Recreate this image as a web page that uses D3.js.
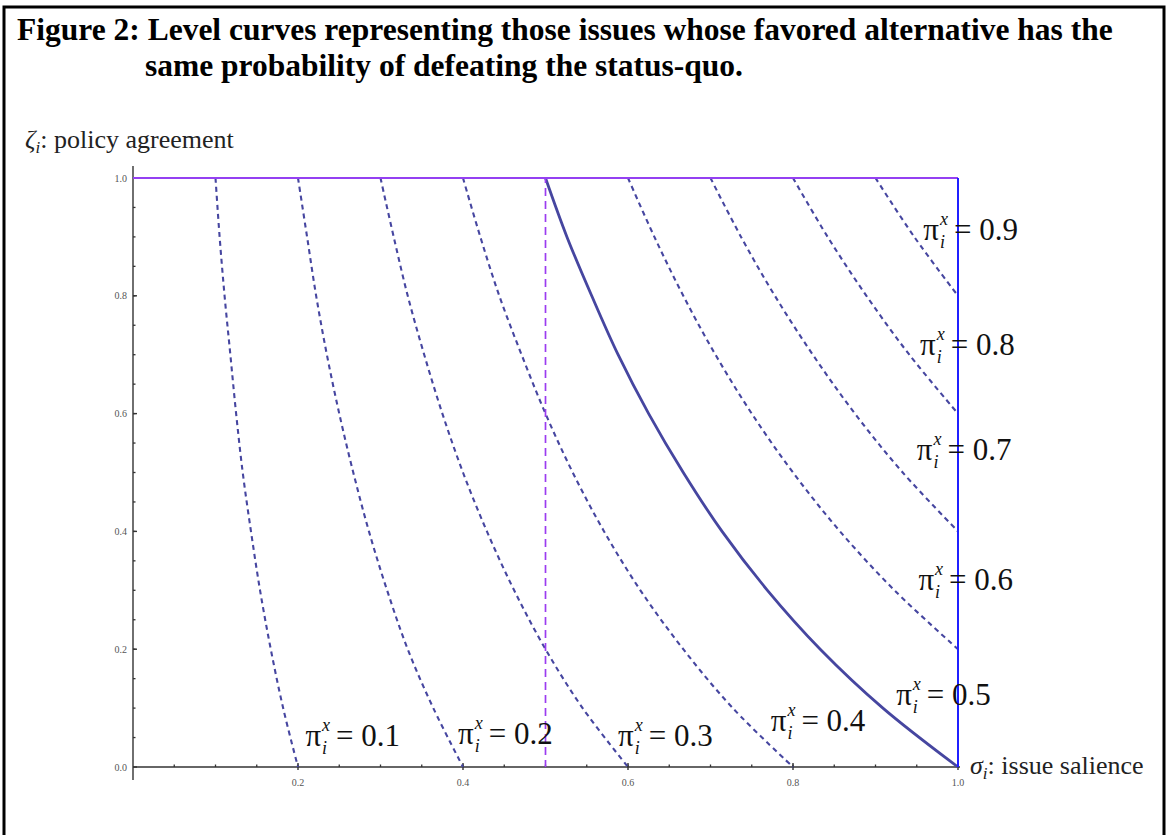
<!DOCTYPE html>
<html>
<head>
<meta charset="utf-8">
<script src="https://cdn.jsdelivr.net/npm/d3@7"></script>
<style>
	body { margin: 0; background: #fff; }
	svg { display: block; font-family: "Liberation Serif", "Times New Roman", serif; }
</style>
</head>
<body>
<script>
"use strict";

// values

let titleLines = [
	"Figure 2: Level curves representing those issues whose favored alternative has the",
	"same probability of defeating the status-quo."
];

let levels = [0.1, 0.2, 0.3, 0.4, 0.5, 0.6, 0.7, 0.8, 0.9];

// zeta (policy agreement) where each curve was sampled, top to bottom
let zetaGrid = [1.0, 0.9, 0.8, 0.7, 0.6, 0.5, 0.4, 0.3, 0.2, 0.1, 0.0];

// sigma (issue salience) for each level at the zeta grid (curves stop at sigma = 1)
let sigmaValues = [
	[0.100, 0.105, 0.111, 0.118, 0.125, 0.133, 0.143, 0.154, 0.167, 0.182, 0.200],
	[0.200, 0.211, 0.222, 0.235, 0.250, 0.267, 0.286, 0.308, 0.333, 0.364, 0.400],
	[0.300, 0.316, 0.333, 0.353, 0.375, 0.400, 0.429, 0.462, 0.500, 0.545, 0.600],
	[0.400, 0.421, 0.444, 0.471, 0.500, 0.533, 0.571, 0.615, 0.667, 0.727, 0.800],
	[0.500, 0.526, 0.556, 0.588, 0.625, 0.667, 0.714, 0.769, 0.833, 0.909, 1.000],
	[0.600, 0.632, 0.667, 0.706, 0.750, 0.800, 0.857, 0.923, 1.000],
	[0.700, 0.737, 0.778, 0.824, 0.875, 0.933, 1.000],
	[0.800, 0.842, 0.889, 0.941, 1.000],
	[0.900, 0.947, 1.000]
];

// label anchors in data units (sigma, zeta)
let labelSigma = [0.209, 0.394, 0.588, 0.773, 0.925, 0.952, 0.950, 0.954, 0.958];
let labelZeta  = [0.036, 0.039, 0.036, 0.061, 0.105, 0.300, 0.521, 0.700, 0.895];

let xTicks = [0.2, 0.4, 0.6, 0.8, 1.0];
let yTicks = [0.0, 0.2, 0.4, 0.6, 0.8, 1.0];
let minorStep = 0.05;

let statusQuoSigma = 0.5;


function init() {

	let width = 1167,
		height = 835;

	let svg = d3.select("body")
		.append("svg")
			.attr("width", width)
			.attr("height", height);

	// outer frame
	svg.append("rect")
		.attr("x", 4)
		.attr("y", 7)
		.attr("width", 1160)
		.attr("height", 850)
		.style("fill", "none")
		.style("stroke", "#000")
		.style("stroke-width", 3);

	// title
	svg.append("text")
		.attr("x", 17)
		.attr("y", 40)
		.style("font-size", "31.5px")
		.style("font-weight", "bold")
		.text(titleLines[0]);

	svg.append("text")
		.attr("x", 145)
		.attr("y", 76)
		.style("font-size", "31.5px")
		.style("font-weight", "bold")
		.text(titleLines[1]);

	let xScale = d3.scaleLinear()
		.domain([0, 1])
		.range([133, 958]);

	let yScale = d3.scaleLinear()
		.domain([0, 1])
		.range([767, 178]);

	let axisColor = "#333",
		curveColor = "#4646a0";

	// axes (Mathematica style, crossing at origin)
	let axes = svg.append("g");

	axes.append("line")
		.attr("x1", xScale(0)).attr("x2", xScale(0))
		.attr("y1", 166).attr("y2", 780)
		.style("stroke", axisColor).style("stroke-width", 1.4);

	axes.append("line")
		.attr("x1", xScale(0)).attr("x2", xScale(1) + 2)
		.attr("y1", yScale(0)).attr("y2", yScale(0))
		.style("stroke", axisColor).style("stroke-width", 1.4);

	let minor = d3.range(minorStep, 1.0001, minorStep);

	axes.selectAll(".xminor")
		.data(minor)
		.enter()
		.append("line")
			.attr("x1", d => xScale(d)).attr("x2", d => xScale(d))
			.attr("y1", yScale(0)).attr("y2", yScale(0) - 2.5)
			.style("stroke", axisColor).style("stroke-width", 1.3);

	axes.selectAll(".yminor")
		.data(minor)
		.enter()
		.append("line")
			.attr("x1", xScale(0)).attr("x2", xScale(0) + 2.5)
			.attr("y1", d => yScale(d)).attr("y2", d => yScale(d))
			.style("stroke", axisColor).style("stroke-width", 1.3);

	axes.selectAll(".xmajor")
		.data(xTicks)
		.enter()
		.append("line")
			.attr("x1", d => xScale(d)).attr("x2", d => xScale(d))
			.attr("y1", yScale(0) + 3).attr("y2", yScale(0) - 4)
			.style("stroke", axisColor).style("stroke-width", 1.4);

	axes.selectAll(".ymajor")
		.data(yTicks)
		.enter()
		.append("line")
			.attr("x1", xScale(0)).attr("x2", xScale(0) + 4)
			.attr("y1", d => yScale(d)).attr("y2", d => yScale(d))
			.style("stroke", axisColor).style("stroke-width", 1.4);

	axes.selectAll(".xlabel")
		.data(xTicks)
		.enter()
		.append("text")
			.attr("x", d => xScale(d))
			.attr("y", yScale(0) + 19)
			.attr("text-anchor", "middle")
			.style("font-size", "10px")
			.style("fill", "#555")
			.text(d => d.toFixed(1));

	axes.selectAll(".ylabel")
		.data(yTicks)
		.enter()
		.append("text")
			.attr("x", xScale(0) - 6)
			.attr("y", d => yScale(d) + 3.5)
			.attr("text-anchor", "end")
			.style("font-size", "10px")
			.style("fill", "#555")
			.text(d => d.toFixed(1));

	// axis titles
	let yTitle = svg.append("text")
		.attr("x", 25)
		.attr("y", 148)
		.style("font-size", "26px")
		.style("fill", "#222");
	yTitle.append("tspan").style("font-style", "italic").text("ζ");
	yTitle.append("tspan").style("font-style", "italic").style("font-size", "17px").attr("dy", 5).text("i");
	yTitle.append("tspan").attr("dy", -5).text(": policy agreement");

	let xTitle = svg.append("text")
		.attr("x", 970)
		.attr("y", 774)
		.style("font-size", "26px")
		.style("fill", "#222");
	xTitle.append("tspan").style("font-style", "italic").text("σ");
	xTitle.append("tspan").style("font-style", "italic").style("font-size", "17px").attr("dy", 5).text("i");
	xTitle.append("tspan").attr("dy", -5).text(": issue salience");

	// level curves
	let curves = levels.map(function (p, i) {
		return sigmaValues[i].map(function (s, j) { return [s, zetaGrid[j]]; });
	});

	let line = d3.line()
		.x(d => xScale(d[0]))
		.y(d => yScale(d[1]))
		.curve(d3.curveCatmullRom);

	svg.append("g")
		.selectAll("path")
		.data(curves)
		.enter()
		.append("path")
			.attr("d", line)
			.style("fill", "none")
			.style("stroke", curveColor)
			.style("stroke-width", (d, i) => levels[i] === 0.5 ? 2.8 : 2.1)
			.style("stroke-dasharray", (d, i) => levels[i] === 0.5 ? null : "5,4");

	// status quo line and the frame of the region
	svg.append("line")
		.attr("x1", xScale(statusQuoSigma)).attr("x2", xScale(statusQuoSigma))
		.attr("y1", yScale(1)).attr("y2", yScale(0))
		.style("stroke", "#9b3cf0")
		.style("stroke-width", 1.7)
		.style("stroke-dasharray", "8,5")
		.style("stroke-dashoffset", -10);

	svg.append("line")
		.attr("x1", xScale(0)).attr("x2", xScale(1))
		.attr("y1", yScale(1)).attr("y2", yScale(1))
		.style("stroke", "#9440f2")
		.style("stroke-width", 2.2);

	svg.append("line")
		.attr("x1", xScale(1)).attr("x2", xScale(1))
		.attr("y1", yScale(1)).attr("y2", yScale(0))
		.style("stroke", "#2020ff")
		.style("stroke-width", 2);

	// level labels
	let labels = svg.append("g")
		.selectAll("text")
		.data(levels)
		.enter()
		.append("text")
			.attr("x", (d, i) => xScale(labelSigma[i]))
			.attr("y", (d, i) => yScale(labelZeta[i]))
			.style("font-size", "31px")
			.style("fill", "#111");

	labels.append("tspan").text("π");
	labels.append("tspan")
		.style("font-style", "italic").style("font-size", "18px")
		.attr("dx", 1).attr("dy", -15)
		.text("x");
	labels.append("tspan")
		.style("font-style", "italic").style("font-size", "18px")
		.attr("dx", -8).attr("dy", 23)
		.text("i");
	labels.append("tspan")
		.attr("dx", 9).attr("dy", -8)
		.text(d => "= " + d.toFixed(1));
}

init();
</script>
</body>
</html>
